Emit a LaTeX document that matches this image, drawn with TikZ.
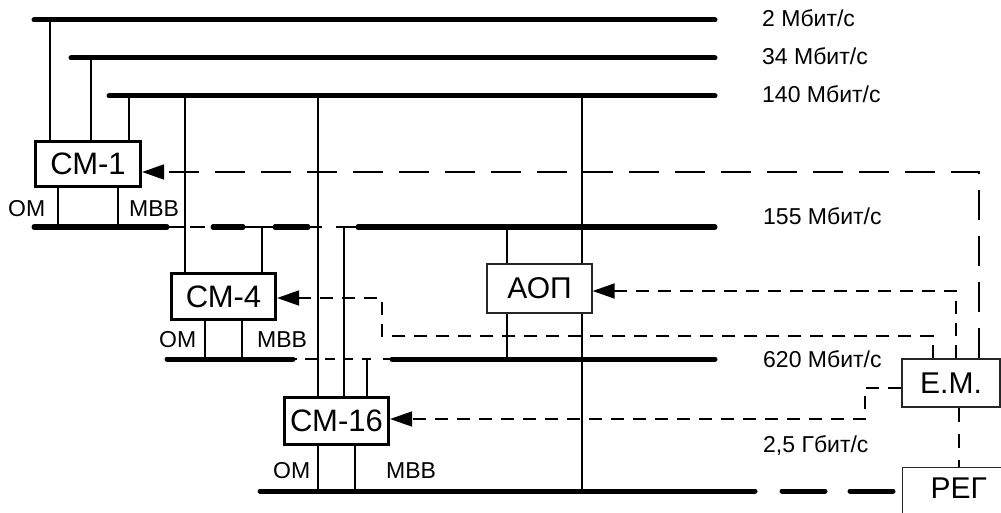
\documentclass[tikz,border=0pt]{standalone}
\usepackage{fontspec}
\setmainfont{Liberation Sans}
\usetikzlibrary{arrows.meta}
\begin{document}
\begin{tikzpicture}[x=1pt,y=-1pt,
  bus/.style={line width=5pt, line cap=round},
  wire/.style={line width=1.8pt},
  unit/.style={draw, line width=3.2pt, fill=white, inner sep=0pt, font=\fontsize{31}{36}\selectfont},
  lightbox/.style={draw=black!85, line width=1.3pt, fill=white, inner sep=0pt, font=\fontsize{30}{36}\selectfont},
  lbl/.style={font=\fontsize{23}{27}\selectfont, inner sep=0pt, anchor=base west},
  ctl/.style={line width=1.8pt, dash pattern=on 13pt off 9pt},
  ctllong/.style={line width=1.8pt, dash pattern=on 30pt off 16pt},
  ctlv/.style={line width=1.8pt, dash pattern=on 14pt off 12pt},
  busdash/.style={line width=5pt, line cap=round, dash pattern=on 43pt off 25pt},
  arr/.style={-{Triangle[length=22pt,width=15pt]}},
]
\useasboundingbox (0,0) rectangle (1001,513);

% ---- buses ----
\coordinate (b2L) at (34,20);   \coordinate (b2R) at (715,20);
\coordinate (b34L) at (71,58);  \coordinate (b34R) at (715,58);
\coordinate (b140L) at (109,96);\coordinate (b140R) at (715,96);
\draw[bus] (b2L) -- (b2R);
\draw[bus] (b34L) -- (b34R);
\draw[bus] (b140L) -- (b140R);

% 155 bus
\draw[bus] (34,227) -- (167,227);
\draw[wire] (167,227) -- (185,227) (190,227) -- (205,227) (245,227) -- (275,227) (308,227) -- (322,227) (336,227) -- (358,227);
\draw[bus] (213,227) -- (243,227);
\draw[bus] (275,227) -- (308,227);
\draw[bus] (358,227) -- (715,227);

% 620 bus
\draw[bus] (167,359) -- (293,359);
\draw[wire] (293,359) -- (297,359) (305,359) -- (318,359) (325,359) -- (335,359) (344,359) -- (353,359) (362,359) -- (371,359) (383,359) -- (392,359);
\draw[bus] (392,359) -- (715,359);

% 2,5 bus
\draw[bus] (260,491) -- (755,491);
\draw[busdash] (782,491) -- (893,491);

% ---- vertical wires ----
\draw[wire] (50,20) -- (50,140);
\draw[wire] (91,58) -- (91,140);
\draw[wire] (129,96) -- (129,140);
\draw[wire] (185,96) -- (185,272);
\draw[wire] (318,96) -- (318,491);
\draw[wire] (582,96) -- (582,491);
\draw[wire] (262,227) -- (262,272);
\draw[wire] (344,227) -- (344,396);
\draw[wire] (367,359) -- (367,396);
\draw[wire] (507,227) -- (507,359);
\draw[wire] (58,188) -- (58,227);
\draw[wire] (118,188) -- (118,227);
\draw[wire] (205,321) -- (205,359);
\draw[wire] (242,321) -- (242,359);
\draw[wire] (355,446) -- (355,491);

% ---- units ----
\node[unit, minimum width=105pt, minimum height=45pt] (cm1) at (88,164) {СМ-1};
\node[unit, minimum width=104pt, minimum height=46pt] (cm4) at (223.5,296.5) {СМ-4};
\node[unit, minimum width=104pt, minimum height=47pt] (cm16) at (336.5,421) {СМ-16};
\node[lightbox, minimum width=105pt, minimum height=49pt] (aop) at (539.5,288.5) {АОП};
\node[lightbox, minimum width=98pt, minimum height=48pt] (em) at (951,383) {E.M.};
\node[lightbox, anchor=north west, minimum width=112pt, text height=31pt, text depth=25pt, inner ysep=0pt] (reg) at (902,467) {РЕГ};

% ---- control lines ----
\draw[ctllong, arr] (em.north -| 979,0) -- (979,172) -- ([yshift=-8pt]cm1.east);
\draw[ctl, arr] (em.north -| 956,0) -- (956,291) -- (aop.east |- 0,291);
\draw[ctl, arr] (em.north -| 933,0) -- (933,336) -- (382,336) -- (382,298) -- (cm4.east |- 0,298);
\draw[ctl, arr] (em.west |- 0,388) -- (865,388) -- (865,419) -- (cm16.east |- 0,419);
\draw[ctlv] (em.south -| 959,0) -- (reg.north -| 959,0);

% ---- labels ----
\node[lbl] (l2) at (762,27) {2 Мбит/с};
\node[lbl] (l34) at (762,65) {34 Мбит/с};
\node[lbl] (l140) at (762,103) {140 Мбит/с};
\node[lbl] (l155) at (763,225) {155 Мбит/с};
\node[lbl] (l620) at (763,367) {620 Мбит/с};
\node[lbl] (l25) at (763,452) {2,5 Гбит/с};
\node[lbl] (om1) at (8,217) {ОМ};
\node[lbl] (mvv1) at (129,217) {МВВ};
\node[lbl] (om4) at (159,347) {ОМ};
\node[lbl] (mvv4) at (257,347) {МВВ};
\node[lbl] (om16) at (273,478) {ОМ};
\node[lbl] (mvv16) at (386,478) {МВВ};
\end{tikzpicture}
\end{document}
